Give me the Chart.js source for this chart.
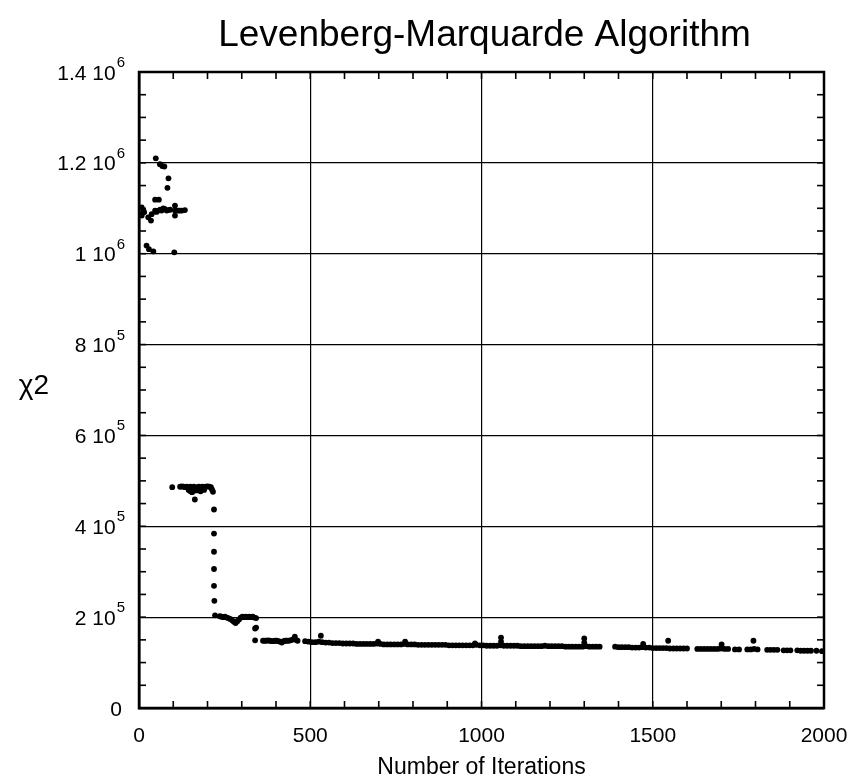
<!DOCTYPE html>
<html><head><meta charset="utf-8">
<script src="https://cdn.jsdelivr.net/npm/chart.js@4.4.1/dist/chart.umd.min.js"></script>
<style>html,body{margin:0;padding:0;background:#fff;} #wrap{width:848px;height:782px;}</style>
</head><body><div id="wrap"><canvas id="c" width="848" height="782"></canvas></div>
<script>
const chartTitle = "Levenberg-Marquarde Algorithm";
const xAxisTitle = "Number of Iterations";
const yAxisTitle = "χ2";
const xTickValues = [0, 500, 1000, 1500, 2000];
const xTickLabels = ["0", "500", "1000", "1500", "2000"];
// chi2 values are in thousands
const yTickValues = [0, 200, 400, 600, 800, 1000, 1200, 1400];
const yTickMantissa = ["0", "2", "4", "6", "8", "1", "1.2", "1.4"];
const yTickExponent = ["", "5", "5", "5", "5", "6", "6", "6"];

// phase 1: scattered early iterations
const searchIter = [3,8,8,13,15,22,27,29,35,37,42,47,47,49,51,56,58,61,62,66,68,71,74,76,81,83,86,86,91,103,105,105,105,110,115,120,125,134];
const searchChi2 = [1087,1102,1084,1095,1091,1018,1080,1010,1073,1087,1005,1119,1095,1210,1092,1095,1119,1197,1097,1095,1193,1100,1192,1098,1095,1145,1166,1096,1097,1003,1106,1095,1084,1095,1095,1095,1095,1096];

// phase 2: plateau near 4.8 10^5
const plateau1Iter = [97,120,125,130,135,140,145,145,150,150,155,155,160,160,163,165,170,170,175,180,180,185,190,190,195,200,205,210,213,216];
const plateau1Chi2 = [486,487,488,487,486,487,486,480,487,477,486,475,487,478,459,482,486,479,487,486,477,487,486,480,487,488,487,486,481,476];

// drop
const dropIter = [219,219,219,219,219,220,222];
const dropChi2 = [437,384,344,306,269,236,204];

// phase 3: plateau near 2 10^5
const plateau2Iter = [236,241,246,251,256,261,266,272,277,282,287,292,297,302,307,312,317,322,327,332,337,342,342];
const plateau2Chi2 = [202,201,200,201,199,198,196,193,190,187,191,195,199,201,200,201,200,201,200,201,199,198,177];

// phase 4: plateau near 1.5 10^5
const plateau3Iter = [339,339,362,367,372,377,382,387,392,397,402,407,412,417,422,427,432,437,442,447,452,455,458,463];
const plateau3Chi2 = [175,149,148,148,148,149,148,147,147,148,148,147,146,144,147,148,148,148,149,150,152,157,150,148];

// phase 5: slow convergence
const tailIter = [485,495,505,515,525,535,545,555,565,575,585,595,605,615,625,635,645,655,665,675,685,695,705,715,725,735,745,755,765,775,785,795,805,815,825,835,845,855,865,875,885,895,905,915,925,935,945,955,965,975,985,995,1005,1015,1025,1035,1045,1055,1065,1075,1085,1095,1105,1115,1125,1135,1145,1155,1165,1175,1185,1195,1205,1215,1225,1235,1245,1255,1265,1275,1285,1295,1305,1315,1325,1335,1345,
 531,698,777,981,1057,1057,1300,1300,
 1390,1400,1410,1420,1430,1440,1450,1460,1470,1480,1490,1500,1510,1520,1530,1540,1550,1560,1570,1580,1590,1600,1472,1545,
 1630,1640,1650,1660,1670,1680,1690,1700,1710,1720,1701,
 1740,1752,1776,1786,1796,1806,1794,1834,1844,1854,1864,1882,1892,1902,1922,1932,1942,1952,1962,1978,1994];
const tailChi2 = [147,146,145,145,146,145,144,144,143,143,143,142,142,142,142,141,141,141,141,141,141,142,141,140,140,140,140,140,140,141,140,140,140,139,139,139,139,139,139,139,139,139,138,138,138,138,138,138,138,138,139,138,138,137,137,137,137,138,137,137,137,137,137,136,136,136,136,136,136,136,137,136,136,136,136,136,135,135,135,135,135,135,136,135,135,135,135,
 159,146,146,142,155,146,153,144,
 135,134,134,134,134,133,133,133,134,133,133,132,132,132,132,132,131,131,131,131,131,131,141,148,
 130,130,130,130,130,130,130,131,130,130,140,
 129,129,129,129,130,129,148,128,128,128,128,127,127,127,127,126,126,126,126,126,125];

const allIter = [].concat(searchIter, plateau1Iter, dropIter, plateau2Iter, plateau3Iter, tailIter);
const allChi2 = [].concat(searchChi2, plateau1Chi2, dropChi2, plateau2Chi2, plateau3Chi2, tailChi2);
const points = allIter.map((v, i) => ({x: v, y: allChi2[i]}));

const xMinorStep = 100;
const yMinorStep = 50;
const FONT = '"Liberation Sans", Arial, Helvetica, sans-serif';

const frameTicks = {
  id: 'frameTicks',
  afterDatasetsDraw(chart) {
    const {ctx, chartArea: a, scales: {x, y}} = chart;
    ctx.save();
    ctx.strokeStyle = '#000';
    ctx.lineWidth = 1.6;
    const ln = (x1, y1, x2, y2) => { ctx.beginPath(); ctx.moveTo(x1, y1); ctx.lineTo(x2, y2); ctx.stroke(); };
    for (let v = x.min; v <= x.max; v += xMinorStep) {
      const px = x.getPixelForValue(v);
      ln(px, a.bottom, px, a.bottom - 7);
      ln(px, a.top, px, a.top + 7);
    }
    for (let v = y.min; v <= y.max; v += yMinorStep) {
      const py = y.getPixelForValue(v);
      ln(a.left, py, a.left + 7, py);
      ln(a.right, py, a.right - 7, py);
    }
    ctx.lineWidth = 2.5;
    ctx.strokeRect(a.left, a.top, a.right - a.left, a.bottom - a.top);

    ctx.fillStyle = '#000';
    // title
    ctx.font = '37px ' + FONT;
    ctx.textAlign = 'center';
    ctx.textBaseline = 'alphabetic';
    ctx.fillText(chartTitle, (a.left + a.right) / 2 + 3, 46);
    // y axis title
    ctx.font = '28px ' + FONT;
    ctx.textBaseline = 'middle';
    ctx.fillText(yAxisTitle, 34, 386);
    // y tick labels with superscript exponents
    const rightEdge = a.left - 14;
    yTickValues.forEach((v, i) => {
      const py = y.getPixelForValue(v);
      const exp = yTickExponent[i];
      ctx.textBaseline = 'alphabetic';
      ctx.textAlign = 'right';
      if (exp) {
        ctx.font = '15px ' + FONT;
        const ew = ctx.measureText(exp).width;
        ctx.fillText(exp, rightEdge, py - 5);
        ctx.font = '21px ' + FONT;
        ctx.fillText(yTickMantissa[i] + ' 10', rightEdge - ew - 1, py + 7.5);
      } else {
        ctx.font = '21px ' + FONT;
        ctx.fillText(yTickMantissa[i], rightEdge - 3, py + 7.5);
      }
    });
    ctx.restore();
  }
};

new Chart(document.getElementById('c'), {
  type: 'scatter',
  data: {
    datasets: [{
      data: points,
      backgroundColor: '#000',
      borderColor: '#000',
      borderWidth: 0,
      pointRadius: 2.9,
      pointHoverRadius: 2.9
    }]
  },
  options: {
    responsive: false,
    animation: false,
    events: [],
    layout: {padding: {left: 0, right: 24, top: 72, bottom: 0}},
    plugins: {
      legend: {display: false},
      tooltip: {enabled: false},
      title: {display: false}
    },
    scales: {
      x: {
        type: 'linear',
        min: 0, max: 2000,
        afterFit: s => { s.height = 74; s.paddingLeft = 0; s.paddingRight = 0; },
        afterBuildTicks: s => { s.ticks = xTickValues.map(v => ({value: v})); },
        ticks: {
          color: '#000', padding: 16,
          font: {family: FONT, size: 21},
          callback: (v) => xTickLabels[xTickValues.indexOf(v)]
        },
        grid: {color: '#000', lineWidth: 1.2, drawTicks: false},
        border: {display: true, color: '#000', width: 2.5},
        title: {display: true, text: xAxisTitle, color: '#000', font: {family: FONT, size: 23}, padding: {top: 2, bottom: 1}}
      },
      y: {
        type: 'linear',
        min: 0, max: 1400,
        afterFit: s => { s.width = 139; s.paddingTop = 0; s.paddingBottom = 0; },
        afterBuildTicks: s => { s.ticks = yTickValues.map(v => ({value: v})); },
        ticks: {display: false},
        grid: {color: '#000', lineWidth: 1.2, drawTicks: false},
        border: {display: true, color: '#000', width: 2.5}
      }
    }
  },
  plugins: [frameTicks]
});
</script>
</body></html>
